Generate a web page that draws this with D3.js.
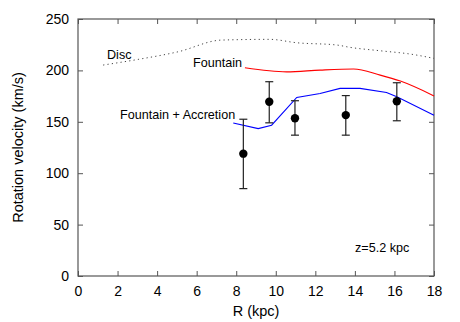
<!DOCTYPE html>
<html>
<head>
<meta charset="utf-8">
<script src="https://cdn.jsdelivr.net/npm/d3@7"></script>
<style>
  body { margin: 0; background: #fff; }
  svg { font-family: "Liberation Sans", Arial, sans-serif; }
  .frame { fill: none; stroke: #555; stroke-width: 1.2; }
  .tick line { stroke: #555; }
  .tick text { font-size: 14px; fill: #000; }
</style>
</head>
<body>
<div id="chart"></div>
<script>
'use strict';

// observed rotation velocities
const obsR = [8.36, 9.67, 10.97, 13.54, 16.12];
const obsV = [119, 169.5, 153.5, 156.5, 170];
const obsLo = [85, 149, 137, 137, 151];
const obsHi = [152.5, 189, 170.5, 175.5, 188];

// model curves
const discR = [1.27, 3.04, 5.06, 7.26, 9.7, 11.06, 13.08, 13.76, 15.28, 16.8, 18];
const discV = [205.2, 210.7, 218.1, 229.5, 230.2, 226.9, 224.7, 222.4, 219.1, 215.9, 211.7];

const fountR = [8.44, 10.55, 12.24, 13.93, 15.28, 16.3, 18];
const fountV = [202.5, 198.6, 200.3, 201.3, 195.4, 189.6, 175.2];

const accR = [7.85, 9.11, 9.79, 11.06, 12.24, 13.25, 14.26, 15.6, 16.12, 18];
const accV = [148.9, 143.4, 146.7, 173.7, 177.6, 182.5, 182.5, 178.5, 174.3, 156.4];

const xTicks = [0, 2, 4, 6, 8, 10, 12, 14, 16, 18];
const yTicks = [0, 50, 100, 150, 200, 250];

const W = 460, H = 322;
const margin = { left: 78, right: 26, top: 19, bottom: 46 };

const svg = d3.select('#chart').append('svg')
  .attr('width', W)
  .attr('height', H);

const x = d3.scaleLinear().domain([0, 18]).range([margin.left, W - margin.right]);
const y = d3.scaleLinear().domain([0, 250]).range([H - margin.bottom, margin.top]);

// axes, ticks pointing inward and mirrored
svg.append('g')
  .attr('transform', 'translate(0,' + y(0) + ')')
  .call(d3.axisBottom(x).tickValues(xTicks).tickSizeInner(-5).tickSizeOuter(0).tickPadding(10))
  .call(g => g.select('.domain').remove());
svg.append('g')
  .attr('transform', 'translate(0,' + y(250) + ')')
  .call(d3.axisTop(x).tickValues(xTicks).tickSizeInner(-5).tickSizeOuter(0).tickFormat(''))
  .call(g => g.select('.domain').remove());
svg.append('g')
  .attr('transform', 'translate(' + x(0) + ',0)')
  .call(d3.axisLeft(y).tickValues(yTicks).tickSizeInner(-5).tickSizeOuter(0).tickPadding(9))
  .call(g => g.select('.domain').remove());
svg.append('g')
  .attr('transform', 'translate(' + x(18) + ',0)')
  .call(d3.axisRight(y).tickValues(yTicks).tickSizeInner(-5).tickSizeOuter(0).tickFormat(''))
  .call(g => g.select('.domain').remove());

svg.append('rect')
  .attr('class', 'frame')
  .attr('x', x(0))
  .attr('y', y(250))
  .attr('width', x(18) - x(0))
  .attr('height', y(0) - y(250));

// axis titles
svg.append('text')
  .attr('x', (x(0) + x(18)) / 2)
  .attr('y', 316)
  .attr('text-anchor', 'middle')
  .style('font-size', '14.5px')
  .text('R (kpc)');
svg.append('text')
  .attr('transform', 'translate(23,' + (y(0) + y(250)) / 2 + ') rotate(-90)')
  .attr('text-anchor', 'middle')
  .style('font-size', '14.5px')
  .text('Rotation velocity (km/s)');

// curves
const smooth = d3.line()
  .curve(d3.curveMonotoneX)
  .x(d => x(d[0]))
  .y(d => y(d[1]));
const straight = d3.line()
  .x(d => x(d[0]))
  .y(d => y(d[1]));

svg.append('path')
  .datum(d3.zip(discR, discV))
  .attr('d', smooth)
  .attr('fill', 'none')
  .attr('stroke', '#444')
  .attr('stroke-width', 1)
  .attr('stroke-dasharray', '1.2,3.2');

svg.append('path')
  .datum(d3.zip(fountR, fountV))
  .attr('d', smooth)
  .attr('fill', 'none')
  .attr('stroke', '#ff0000')
  .attr('stroke-width', 1.1);

svg.append('path')
  .datum(d3.zip(accR, accV))
  .attr('d', straight)
  .attr('fill', 'none')
  .attr('stroke', '#0000ff')
  .attr('stroke-width', 1.1);

// data points with error bars
const obs = obsR.map((r, i) => ({ r: r, v: obsV[i], lo: obsLo[i], hi: obsHi[i] }));
const pts = svg.append('g').selectAll('g')
  .data(obs)
  .enter().append('g')
  .attr('stroke', '#222')
  .attr('stroke-width', 1.2);

pts.append('line')
  .attr('x1', d => x(d.r)).attr('x2', d => x(d.r))
  .attr('y1', d => y(d.lo)).attr('y2', d => y(d.hi));
pts.append('line')
  .attr('x1', d => x(d.r) - 4).attr('x2', d => x(d.r) + 4)
  .attr('y1', d => y(d.lo)).attr('y2', d => y(d.lo));
pts.append('line')
  .attr('x1', d => x(d.r) - 4).attr('x2', d => x(d.r) + 4)
  .attr('y1', d => y(d.hi)).attr('y2', d => y(d.hi));
pts.append('circle')
  .attr('cx', d => x(d.r))
  .attr('cy', d => y(d.v))
  .attr('r', 4.2)
  .attr('stroke', 'none')
  .attr('fill', '#000');

// labels
const labels = [
  { t: 'Disc', x: 107, y: 59 },
  { t: 'Fountain', x: 193, y: 67 },
  { t: 'Fountain + Accretion', x: 120, y: 119 },
  { t: 'z=5.2 kpc', x: 355, y: 252 }
];
svg.append('g').selectAll('text')
  .data(labels)
  .enter().append('text')
  .attr('x', d => d.x)
  .attr('y', d => d.y)
  .style('font-size', '12.6px')
  .text(d => d.t);
</script>
</body>
</html>
